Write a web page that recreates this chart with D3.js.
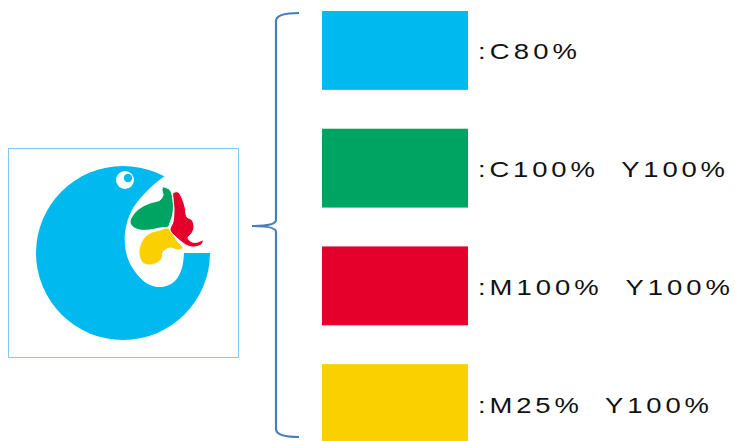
<!DOCTYPE html>
<html><head><meta charset="utf-8">
<script src="https://cdn.jsdelivr.net/npm/d3@7"></script>
<style>body{margin:0;background:#fff}svg{display:block}</style>
</head><body>
<svg id="c" width="735" height="441"></svg>
<script>
// ---- data ----
const swatchNames = ["cyan", "green", "red", "yellow"];
const swatchColors = ["#00b9ef", "#00a462", "#e4002b", "#fad000"];
const swatchLabels = [":C80%", ":C100%  Y100%", ":M100%  Y100%", ":M25%  Y100%"];
const labelWidths = [99, 247, 252, 231];

// logo shape outlines (logo units, frame-local 0..230 x 0..209)
const mouthPts = [[172,12],[160,25],[142,40],[124,62],[117,85],[119,108],[128,125],[140,136],[154,139],[167,133],[174,120],[176,105]];
const greenPts = [[155,39],[162,42],[165,52],[165,65],[162,75],[160,79],[152,80],[142,82],[132,82],[125,79],[122,74],[125,67],[132,60],[142,55],[152,52],[155,47],[154,42]];
const redPts = [[165,45],[170,44],[174,50],[177,59],[179,69],[184,72],[186,79],[184,85],[180,90],[184,94],[190,94],[195,92],[194,96],[187,99],[180,98],[175,95],[169,90],[162,82],[165,74],[166,62],[165,50]];
const yellowPts = [[160,80],[152,82],[142,85],[137,89],[133,95],[131,105],[134,114],[140,117],[149,115],[154,110],[155,104],[162,100],[170,102],[175,100],[170,94],[164,85]];

(function(){
const svg = d3.select("#c");
const lx = d3.scaleLinear().domain([0,230]).range([8,238]);
const ly = d3.scaleLinear().domain([0,209]).range([148,357]);
const closed = d3.line().x(d=>lx(d[0])).y(d=>ly(d[1])).curve(d3.curveCatmullRomClosed.alpha(0.5));

svg.append("rect").attr("x", lx(0)+0.5).attr("y", ly(0)+0.5)
  .attr("width", lx(230)-lx(0)).attr("height", ly(209)-ly(0))
  .attr("fill", "#fff").attr("stroke", "#7ccdf0").attr("stroke-width", 1);

const clipId = "logoClip";
svg.append("clipPath").attr("id", clipId).append("rect")
  .attr("x", lx(0)+1).attr("y", ly(0)+1).attr("width", lx(230)-lx(0)-1).attr("height", ly(209)-ly(0)-1);
const g = svg.append("g").attr("clip-path", `url(#${clipId})`);

g.append("circle").attr("cx", lx(115)).attr("cy", ly(105)).attr("r", lx(87)-lx(0)).attr("fill", swatchColors[0]);
const mouthCurve = d3.line().x(d=>lx(d[0])).y(d=>ly(d[1])).curve(d3.curveCatmullRom);
g.append("path").attr("fill", "#fff")
  .attr("d", mouthCurve(mouthPts) + "L" + lx(215) + "," + ly(105) + "L" + lx(215) + "," + ly(0) + "Z");
g.append("circle").attr("cx", lx(117)).attr("cy", ly(32)).attr("r", 9).attr("fill", "#fff");
g.append("circle").attr("cx", lx(120)).attr("cy", ly(30)).attr("r", 4.2).attr("fill", swatchColors[0]);
g.append("path").attr("d", closed(yellowPts)).attr("fill", swatchColors[3]).attr("stroke", "#fff").attr("stroke-width", 1);
g.append("path").attr("d", closed(greenPts)).attr("fill", swatchColors[1]).attr("stroke", "#fff").attr("stroke-width", 1);
g.append("path").attr("d", closed(redPts)).attr("fill", swatchColors[2]).attr("stroke", "#fff").attr("stroke-width", 1);

const y = d3.scaleBand().domain(swatchNames).range([11, 443]).paddingInner(0.33).paddingOuter(0);
const x0 = 322, sw = 146;
svg.selectAll("rect.sw").data(swatchNames).join("rect").attr("class","sw")
  .attr("x", x0).attr("y", d=>y(d)).attr("width", sw).attr("height", y.bandwidth())
  .attr("fill", (d,i)=>swatchColors[i]);
const sx = 1.22;
svg.selectAll("text.lb").data(swatchNames).join("text").attr("class","lb")
  .attr("transform", d=>`translate(478,${y(d)+y.bandwidth()/2+9}) scale(${sx},1)`)
  .attr("font-family", "'Liberation Sans', Arial, sans-serif")
  .attr("font-size", 22.5).attr("fill", "#111")
  .style("white-space", "pre")
  .attr("textLength", (d,i)=>labelWidths[i]/sx).attr("lengthAdjust", "spacing")
  .text((d,i)=>swatchLabels[i]);

const braceTop = y(swatchNames[0]) + 2, braceBot = 437, mid = 226;
const bx = 276, tipX = 252, endX = 299;
const bp = d3.path();
bp.moveTo(endX, braceTop); bp.quadraticCurveTo(bx, braceTop, bx, braceTop+8);
bp.lineTo(bx, mid-6); bp.quadraticCurveTo(bx, mid, tipX, mid);
bp.quadraticCurveTo(bx, mid, bx, mid+6);
bp.lineTo(bx, braceBot-8); bp.quadraticCurveTo(bx, braceBot, endX, braceBot);
svg.append("path").attr("d", bp.toString()).attr("fill","none").attr("stroke","#4a7dbd").attr("stroke-width",2.2);
})();
</script>
</body></html>
